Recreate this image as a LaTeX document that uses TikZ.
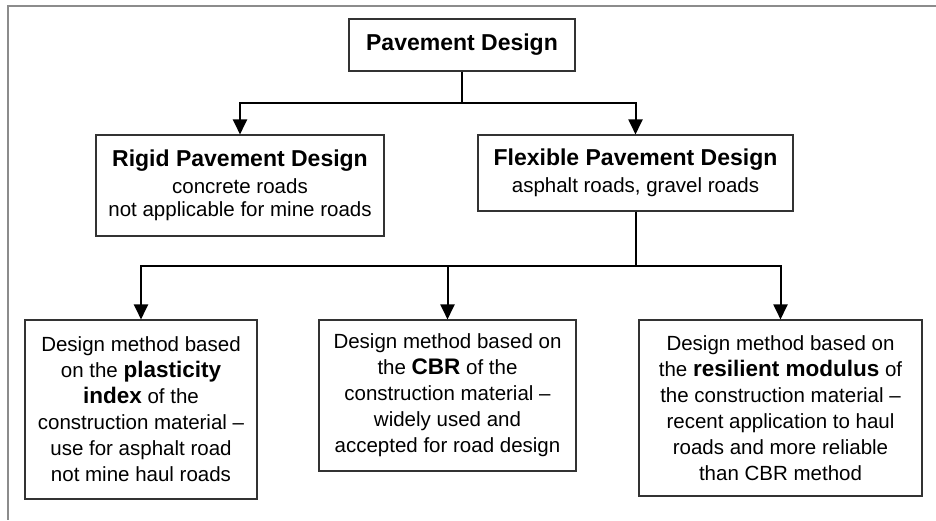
\documentclass[tikz,border=0pt]{standalone}
\usepackage{fontspec}
\setmainfont{Liberation Sans}
\usetikzlibrary{arrows.meta}

% heading and keyword faces
\newcommand{\hd}[1]{{\fontsize{23}{28}\selectfont\bfseries #1}}
\newcommand{\kw}[1]{{\fontsize{22.5}{26}\selectfont\bfseries #1}}

\tikzset{
  box/.style={draw=black!80, line width=1.1pt, align=center, inner sep=0pt,
    font=\fontsize{20.5}{26}\selectfont},
  link/.style={line width=2pt},
  arr/.style={link, -{Triangle[length=15pt,width=14pt]}}
}

\begin{document}
\begin{tikzpicture}[x=1pt,y=-1pt]
\useasboundingbox (0,0) rectangle (936,520);
% page frame, only top and left edges
\draw[black!45, line width=2.4pt] (936,6) -- (8,6) -- (8,520);

\node[box, minimum width=226pt, minimum height=52pt] (pave) at (462,45) {\hd{Pavement Design}};
\node[box, minimum width=288pt, minimum height=101pt] (rigid) at (240,185.5)
  {\hd{Rigid Pavement Design}\\[1pt] concrete roads\\[-3pt] not applicable for mine roads};
\node[box, minimum width=315pt, minimum height=76pt] (flex) at (635.5,173)
  {\hd{Flexible Pavement Design}\\[1pt] asphalt roads, gravel roads};

% design methods
\node[box, minimum width=232pt, minimum height=179pt] (plast) at (141,409.5)
  {Design method based\\ on the \kw{plasticity}\\ \kw{index} of the\\ construction material –\\ use for asphalt road\\ not mine haul roads};
\node[box, minimum width=257pt, minimum height=151pt] (cbr) at (447.5,395.5)
  {Design method based on\\ the \kw{CBR} of the\\ construction material –\\ widely used and\\ accepted for road design};
\node[box, minimum width=283pt, minimum height=176pt] (resil) at (780.5,408)
  {Design method based on\\ the \kw{resilient modulus} of\\ the construction material –\\ recent application to haul\\ roads and more reliable\\ than CBR method};

\draw[arr] (pave.south) -- ++(0,31) -| (rigid.north);
\draw[arr] (pave.south) -- ++(0,31) -| (flex.north);
\draw[arr] (flex.south) -- ++(0,54) -| (plast.north);
\draw[arr] (flex.south) -- ++(0,54) -| (cbr.north);
\draw[arr] (flex.south) -- ++(0,54) -| (resil.north);
\end{tikzpicture}
\end{document}
